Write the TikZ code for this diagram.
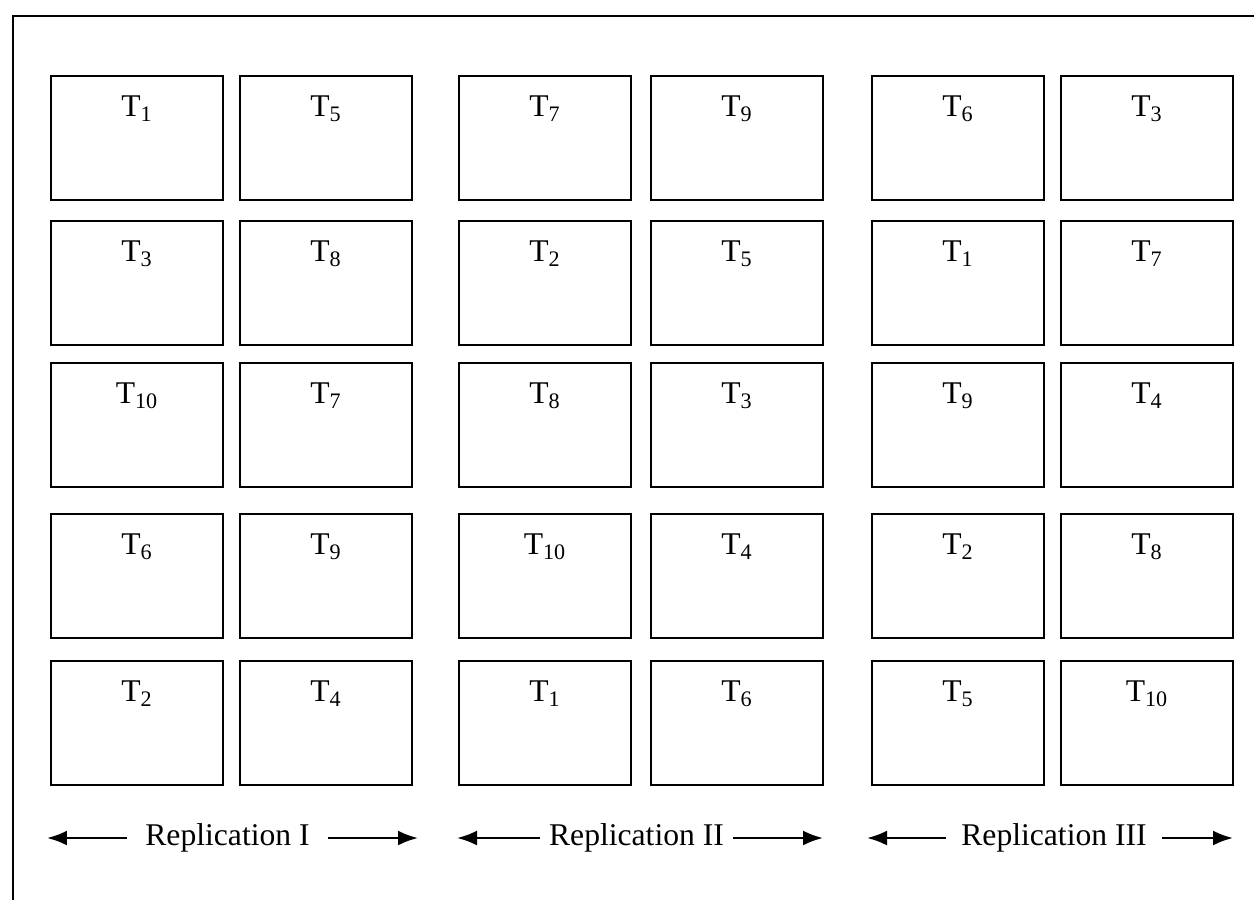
\documentclass[tikz,border=0pt]{standalone}
\usepackage{fontspec}
\setmainfont{Liberation Serif}
\usepackage{tikz}
\usetikzlibrary{arrows.meta,calc}

\begin{document}
\begin{tikzpicture}[x=0.02cm,y=-0.02cm,
    plot/.style={draw,line width=1.6pt,minimum width=3.44cm,minimum height=2.48cm,inner sep=0pt},
    lbl/.style={anchor=base,inner sep=0pt,font=\fontsize{18}{21}\selectfont},
    rep/.style={inner sep=0pt,font=\fontsize{18}{21}\selectfont},
    reparrow/.style={line width=1.4pt,-{Latex[length=0.4cm,width=0.3cm]}}]
\useasboundingbox (0,0) rectangle (1254,900);
\draw [line width=1.5pt] (13,900) |- (1254,16);
% plots: row centre / treatments of the six columns
\foreach \y/\lst [count=\r] in {138/{1,5,7,9,6,3}, 283/{3,8,2,5,1,7},
    425/{10,7,8,3,9,4}, 576/{6,9,10,4,2,8}, 723/{2,4,1,6,5,10}}{
  \foreach \t [count=\c] in \lst {
    \pgfmathsetmacro\x{{137,326,545,737,958,1147}[\c-1]}
    \node [plot] (p\r\c) at (\x,\y) {};
    \node [lbl] (t\r\c) at ([yshift=-0.84cm]p\r\c.north) {T\textsubscript{\t}};
  }
}
% replications
\node [rep,minimum width=4.02cm] (rep1) at (227.5,838) {Replication I};
\node [rep,minimum width=3.86cm] (rep2) at (636.5,838) {Replication II};
\node [rep,minimum width=4.32cm] (rep3) at (1054,838) {Replication III};
\coordinate (rep1l) at (47,838);   \coordinate (rep1r) at (418,838);
\coordinate (rep2l) at (457,838);  \coordinate (rep2r) at (823,838);
\coordinate (rep3l) at (867,838);  \coordinate (rep3r) at (1233,838);
\foreach \i in {1,2,3} {
  \draw [reparrow] (rep\i.west) -- (rep\i l);
  \draw [reparrow] (rep\i.east) -- (rep\i r);
}
\end{tikzpicture}
\end{document}
